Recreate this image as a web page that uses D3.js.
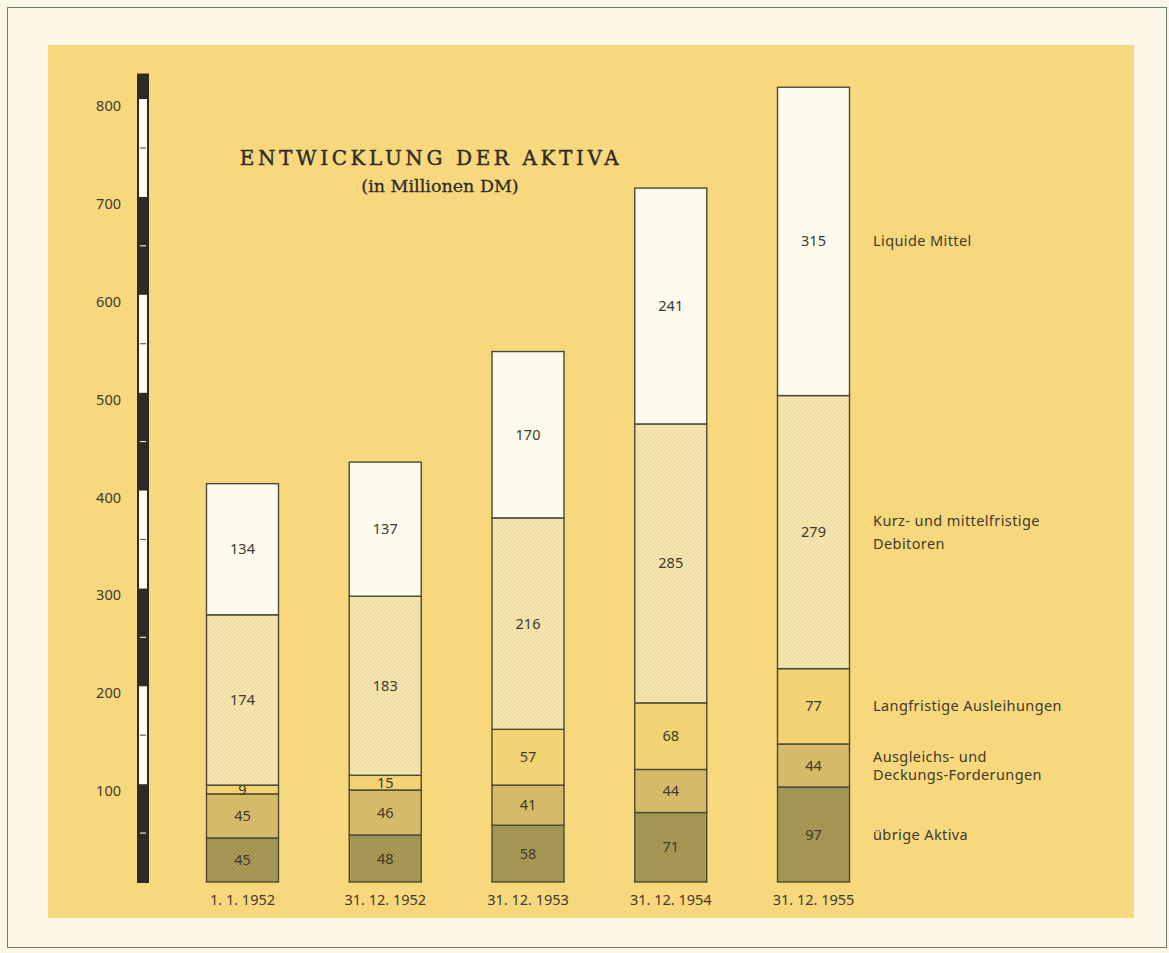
<!DOCTYPE html>
<html>
<head>
    <title>Entwicklung der Aktiva</title>
    <meta charset="utf-8">
    <script src="https://cdn.jsdelivr.net/npm/d3@7"></script>
    <style>
        body { margin: 0; background: #fcf7e6; }
        svg { display: block; font-family: 'Noto Sans', sans-serif; }
    </style>
</head>
<body>
    <svg id="chart" width="1169" height="953"></svg>

    <script>
        // data (in Millionen DM)
        var dates = ["1. 1. 1952", "31. 12. 1952", "31. 12. 1953", "31. 12. 1954", "31. 12. 1955"];
        var uebrigeAktiva = [45, 48, 58, 71, 97];
        var ausgleichsForderungen = [45, 46, 41, 44, 44];
        var langfristigeAusleihungen = [9, 15, 57, 68, 77];
        var kurzMittelfristig = [174, 183, 216, 285, 279];
        var liquideMittel = [134, 137, 170, 241, 315];
        var yTicks = [100, 200, 300, 400, 500, 600, 700, 800];

        var seriesNames = ["übrige Aktiva", "Ausgleichs- und\nDeckungs-Forderungen", "Langfristige Ausleihungen",
            "Kurz- und mittelfristige\nDebitoren", "Liquide Mittel"];
        var seriesValues = [uebrigeAktiva, ausgleichsForderungen, langfristigeAusleihungen, kurzMittelfristig, liquideMittel];
        var fills = ["#a99b55", "#d8bd6a", "#f6d675", "#f6e5ad", "#fdfaee"];
        var lineGap = [1.2, 1.25, 1.2, 1.6, 1.2];

        var svg = d3.select("#chart");

        // outer page frame and yellow panel
        svg.append("rect").attr("x", 7.5).attr("y", 7.5).attr("width", 1159).attr("height", 940)
            .attr("fill", "#fcf7e6").attr("stroke", "#6f7a6a").attr("stroke-width", 1);
        svg.append("rect").attr("x", 48).attr("y", 45).attr("width", 1086).attr("height", 873)
            .attr("fill", "#f8d87c");

        // hatch patterns for the textured segments
        var defs = svg.append("defs");
        fills.forEach(function (c, i) {
            var p = defs.append("pattern").attr("id", "pat" + i)
                .attr("patternUnits", "userSpaceOnUse").attr("width", 4).attr("height", 4);
            p.append("rect").attr("width", 4).attr("height", 4).attr("fill", c);
            if (i < 4) {
                p.append("path").attr("d", "M0,4 L4,0")
                    .attr("stroke", d3.color(c).darker(0.22)).attr("stroke-width", 0.8);
            }
            if (i === 0) {
                p.append("path").attr("d", "M0,0 L4,4")
                    .attr("stroke", d3.color(c).darker(0.22)).attr("stroke-width", 0.8);
            }
        });

        var y = d3.scaleLinear().domain([0, 800]).range([882, 99]);
        var x = d3.scalePoint().domain(dates).range([242.5, 813.5]);
        var barWidth = 72;

        // stack the series
        var table = dates.map(function (d, i) {
            var row = { date: d };
            seriesValues.forEach(function (s, k) { row["s" + k] = s[i]; });
            return row;
        });
        var stack = d3.stack().keys(seriesValues.map(function (s, k) { return "s" + k; }))(table);

        // the striped scale bar on the left
        var scaleG = svg.append("g");
        var blocks = d3.range(0, 825, 50);
        scaleG.selectAll("rect.block")
            .data(blocks)
            .join("rect")
            .attr("x", 138).attr("width", 10)
            .attr("y", function (d) { return y(Math.min(d + 50, 825)); })
            .attr("height", function (d) { return y(d) - y(Math.min(d + 50, 825)); })
            .attr("fill", function (d) { return Math.floor(d / 100) % 2 === 0 ? "#2e2a26" : "#fdfbf2"; });
        scaleG.append("rect").attr("x", 138).attr("width", 10)
            .attr("y", y(825)).attr("height", y(0) - y(825))
            .attr("fill", "none").attr("stroke", "#2e2a26").attr("stroke-width", 2);
        scaleG.selectAll("line.sep")
            .data(d3.range(50, 825, 100))
            .join("line")
            .attr("x1", 140).attr("x2", 146)
            .attr("y1", function (d) { return y(d); }).attr("y2", function (d) { return y(d); })
            .attr("stroke", function (d) { return Math.floor(d / 100) % 2 === 0 ? "#e8e2cc" : "#6b6457"; })
            .attr("stroke-width", 1.2);

        svg.selectAll("text.tick")
            .data(yTicks)
            .join("text")
            .attr("x", 121).attr("y", function (d) { return y(d) + 12; })
            .attr("text-anchor", "end")
            .style("font-size", "14.5px").style("fill", "#403a30")
            .text(function (d) { return d; });

        // stacked bars
        stack.forEach(function (layer, k) {
            svg.append("g").selectAll("rect")
                .data(layer)
                .join("rect")
                .attr("x", function (d) { return x(d.data.date) - barWidth / 2; })
                .attr("y", function (d) { return y(d[1]); })
                .attr("width", barWidth)
                .attr("height", function (d) { return y(d[0]) - y(d[1]); })
                .attr("fill", "url(#pat" + k + ")")
                .attr("stroke", "#4a4a38").attr("stroke-width", 1.4);

            svg.append("g").selectAll("text")
                .data(layer)
                .join("text")
                .attr("x", function (d) { return x(d.data.date); })
                .attr("y", function (d) { return (y(d[0]) + y(d[1])) / 2; })
                .attr("dy", "0.35em")
                .attr("text-anchor", "middle")
                .style("font-size", "14.5px").style("fill", "#403a30")
                .text(function (d) { return d[1] - d[0]; });

            // series name right of the last bar
            var last = layer[layer.length - 1];
            var lines = seriesNames[k].split("\n");
            var t = svg.append("text")
                .attr("x", 873)
                .attr("y", (y(last[0]) + y(last[1])) / 2)
                .style("font-size", "14.5px").style("fill", "#403a30")
                .style("letter-spacing", "0.4px");
            lines.forEach(function (ln, j) {
                t.append("tspan").attr("x", 873)
                    .attr("dy", j === 0 ? (0.35 - (lines.length - 1) * lineGap[k] / 2) + "em" : lineGap[k] + "em")
                    .text(ln);
            });
        });

        // date labels
        svg.selectAll("text.date")
            .data(dates)
            .join("text")
            .attr("x", function (d) { return x(d); })
            .attr("y", 905)
            .attr("text-anchor", "middle")
            .style("font-size", "14.5px").style("fill", "#403a30")
            .text(function (d) { return d; });

        // title
        svg.append("text")
            .attr("x", 431).attr("y", 165)
            .attr("text-anchor", "middle")
            .style("font-family", "'DejaVu Serif', serif")
            .style("font-size", "20px").style("letter-spacing", "3.6px")
            .style("fill", "#2e2a24").style("stroke", "#2e2a24").style("stroke-width", 0.4)
            .text("ENTWICKLUNG DER AKTIVA");
        svg.append("text")
            .attr("x", 440).attr("y", 192)
            .attr("text-anchor", "middle")
            .style("font-family", "'DejaVu Serif', serif")
            .style("font-size", "17.5px")
            .style("fill", "#2e2a24").style("stroke", "#2e2a24").style("stroke-width", 0.3)
            .text("(in Millionen DM)");
    </script>
</body>
</html>
